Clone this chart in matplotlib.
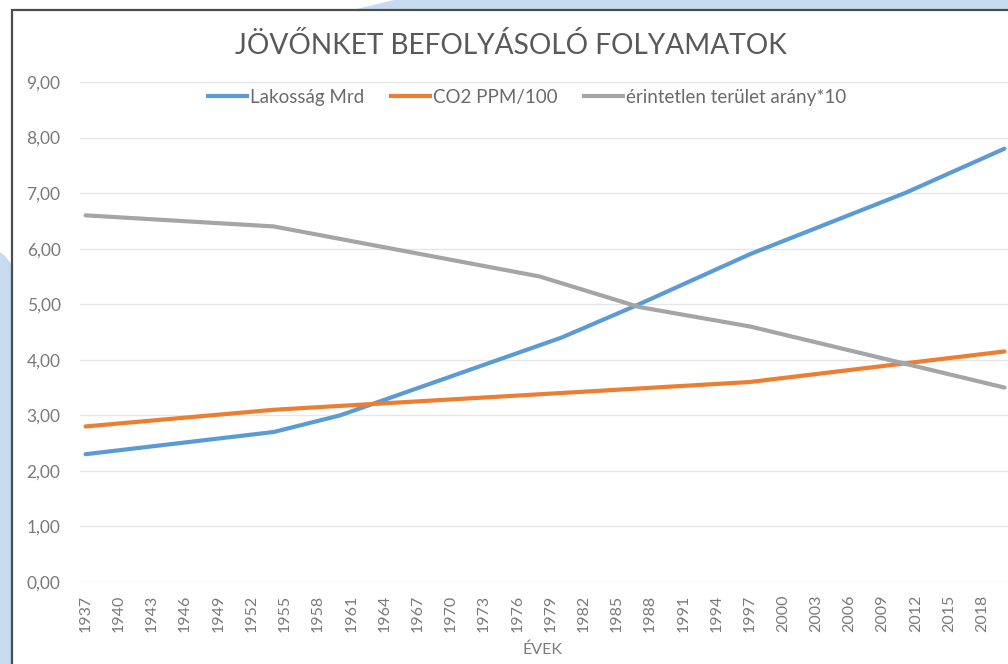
import matplotlib
matplotlib.use("Agg")
import matplotlib.pyplot as plt
from matplotlib.patches import Polygon, Rectangle
from matplotlib.lines import Line2D

plt.rcParams['font.family'] = ['Lato', 'DejaVu Sans']

# ---- data ----
years_all = list(range(1937, 2021))
tick_years = list(range(1937, 2019, 3))

pop_years = [1937, 1954, 1960, 1970, 1980, 1987, 1997, 2011, 2020]
pop_vals = [2.30, 2.70, 3.00, 3.70, 4.40, 5.00, 5.90, 7.00, 7.80]

co2_years = [1937, 1954, 1997, 2020]
co2_vals = [2.80, 3.10, 3.60, 4.15]

wild_years = [1937, 1954, 1978, 1987, 1997, 2020]
wild_vals = [6.60, 6.40, 5.50, 4.95, 4.60, 3.50]

series_names = ["Lakosság Mrd", "CO2 PPM/100", "érintetlen terület arány*10"]
y_ticks = [0, 1, 2, 3, 4, 5, 6, 7, 8, 9]
title = "JÖVŐNKET BEFOLYÁSOLÓ FOLYAMATOK"
xlabel = "ÉVEK"

W, H = 1008, 664
fig = plt.figure(figsize=(W / 100, H / 100), dpi=100)
fig.patch.set_facecolor('white')

def fx(px):
    return px / W

def fy(py):
    return 1 - py / H

blue_bg = '#c6dcee'
# background shapes
fig.patches.append(Polygon([(fx(352), fy(10)), (fx(394), fy(0)), (fx(1008), fy(0)), (fx(1008), fy(10))],
                           closed=True, transform=fig.transFigure, facecolor=blue_bg, edgecolor='none', zorder=0))
fig.patches.append(Polygon([(fx(0), fy(252)), (fx(5), fy(256)), (fx(10), fy(262)), (fx(12), fy(266)),
                            (fx(12), fy(664)), (fx(0), fy(664))],
                           closed=True, transform=fig.transFigure, facecolor=blue_bg, edgecolor='none', zorder=0))
# chart box
fig.patches.append(Rectangle((fx(12), fy(700)), fx(1010 - 12), (700 - 10) / H,
                             transform=fig.transFigure, facecolor='white', edgecolor='#4d4d4d',
                             linewidth=1.6, zorder=0.5))

ax = fig.add_axes([fx(80), fy(582), fx(1010 - 80), (582 - 82) / H])
ax.set_zorder(2)
ax.set_facecolor('none')
ax.set_xlim(1936.5, 2020.5)
ax.set_ylim(0, 9)

ax.plot(pop_years, pop_vals, color='#5b9bd5', lw=3.0, solid_capstyle='round', zorder=3, clip_on=False)
ax.plot(co2_years, co2_vals, color='#ed7d31', lw=3.0, solid_capstyle='round', zorder=3, clip_on=False)
ax.plot(wild_years, wild_vals, color='#a5a5a5', lw=3.0, solid_capstyle='round', zorder=3, clip_on=False)

ax.set_yticks(y_ticks)
ax.set_yticklabels([f"{v:.2f}".replace('.', ',') for v in y_ticks])
ax.set_xticks(tick_years)
ax.set_xticklabels([str(y) for y in tick_years], rotation=90)
ax.tick_params(axis='both', length=0, colors='#7a7a7a')
ax.tick_params(axis='y', pad=14, labelsize=12.5)
ax.tick_params(axis='x', pad=9, labelsize=11.5)
ax.grid(axis='y', color='#e6e6e6', lw=1.0)
ax.set_axisbelow(True)
for s in ax.spines.values():
    s.set_visible(False)

fig.text(fx(511), fy(45), title, ha='center', va='center', fontsize=20.2, color='#595959', zorder=3)
fig.text(fx(543), fy(650), xlabel, ha='center', va='center', fontsize=11.5, color='#7a7a7a', zorder=3)

handles = [Line2D([], [], color=c, lw=3.0) for c in ['#5b9bd5', '#ed7d31', '#a5a5a5']]
leg = fig.legend(handles, series_names, loc='center', bbox_to_anchor=(fx(527), fy(97)), ncol=3,
                 frameon=False, fontsize=13.5, handlelength=2.1, handletextpad=0.15, columnspacing=1.4,
                 labelcolor='#6a6a6a')
leg.set_zorder(4)

fig.savefig('out.png', dpi=100)
